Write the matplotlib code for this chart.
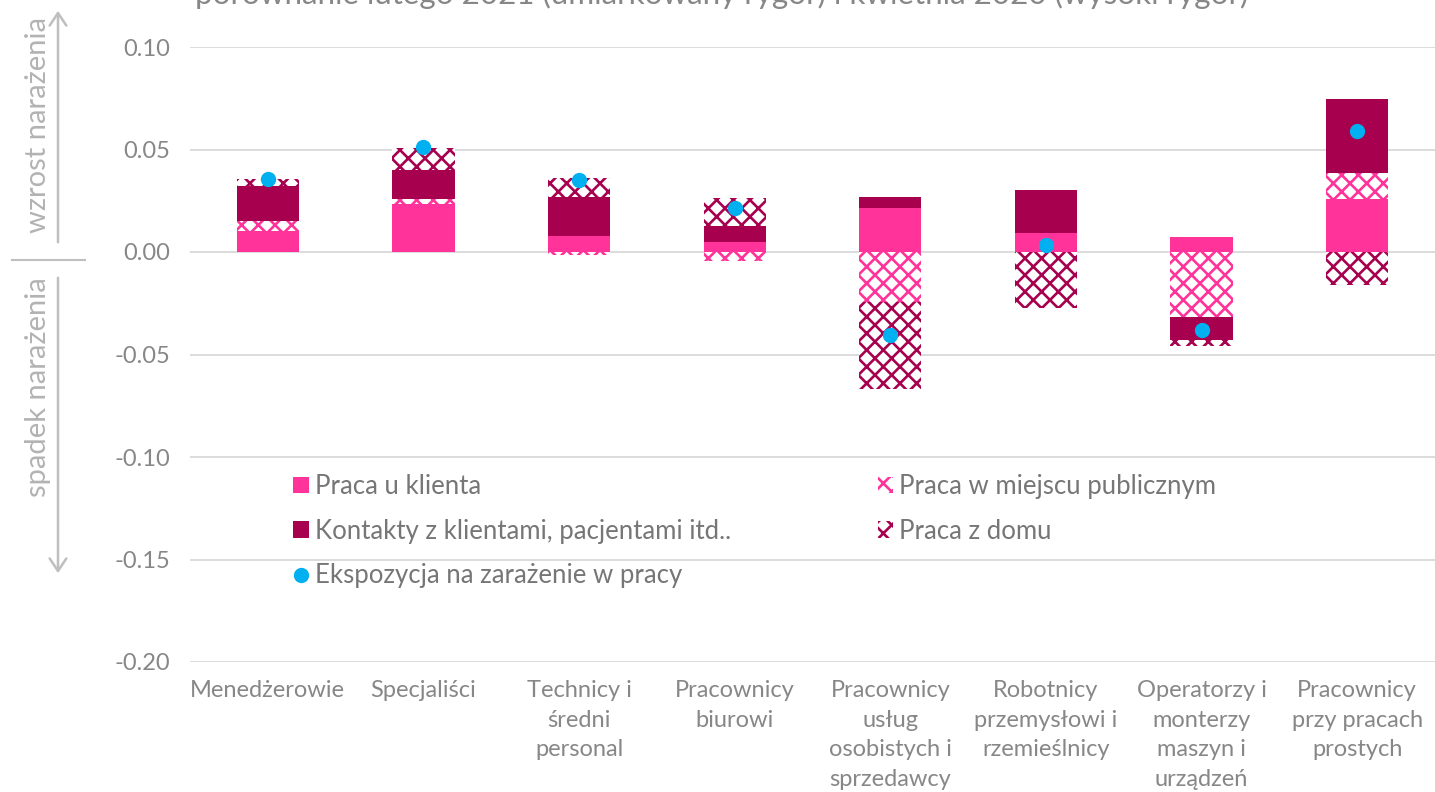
import numpy as np
import matplotlib
matplotlib.use("Agg")
import matplotlib.pyplot as plt
from matplotlib.patches import Patch, FancyArrowPatch
from matplotlib.lines import Line2D

# ==========================================
# dane
# ==========================================
categories = [
    "Menedżerowie",
    "Specjaliści",
    "Technicy i\nśredni\npersonal",
    "Pracownicy\nbiurowi",
    "Pracownicy\nusług\nosobistych i\nsprzedawcy",
    "Robotnicy\nprzemysłowi i\nrzemieślnicy",
    "Operatorzy i\nmonterzy\nmaszyn i\nurządzeń",
    "Pracownicy\nprzy pracach\nprostych",
]
praca_u_klienta = [0.0102, 0.0236, 0.0078, 0.0049, 0.0215, 0.0093, 0.0075, 0.0259]
praca_publiczna = [0.0050, 0.0023, -0.0015, -0.0044, -0.0245, 0.0, -0.0316, 0.0128]
kontakty = [0.0170, 0.0142, 0.0189, 0.0079, 0.0052, 0.0209, -0.0113, 0.0361]
praca_z_domu = [0.0034, 0.0108, 0.0094, 0.0134, -0.0425, -0.0272, -0.0028, -0.0160]
ekspozycja = [0.0355, 0.0510, 0.0351, 0.0216, -0.0405, 0.0033, -0.0380, 0.0592]

yticks = [-0.20, -0.15, -0.10, -0.05, 0.00, 0.05, 0.10]

PINK = "#FF3399"
DARK = "#A6004F"
BLUE = "#00B0F0"
GRAY = "#878787"
LEG_GRAY = "#767676"
HATCH = "xx"

plt.rcParams['font.family'] = ['Lato', 'DejaVu Sans']
plt.rcParams['font.weight'] = 'normal'
plt.rcParams['hatch.linewidth'] = 1.9

fig = plt.figure(figsize=(14.35, 7.92), dpi=100)
ax = fig.add_axes([190 / 1435, 130 / 792, 1245 / 1435, 615 / 792])

x = np.arange(len(categories))
w = 0.40

series = [
    (praca_u_klienta, dict(color=PINK)),
    (praca_publiczna, dict(facecolor="white", edgecolor=PINK, hatch=HATCH, linewidth=0)),
    (kontakty, dict(color=DARK)),
    (praca_z_domu, dict(facecolor="white", edgecolor=DARK, hatch=HATCH, linewidth=0)),
]

# stos dodatni i ujemny osobno (jak w Excelu)
pos = np.zeros(len(categories))
neg = np.zeros(len(categories))
for vals, style in series:
    v = np.array(vals)
    bottom = np.where(v >= 0, pos, neg)
    ax.bar(x, v, w, bottom=bottom, zorder=2, **style)
    pos = pos + np.where(v >= 0, v, 0)
    neg = neg + np.where(v < 0, v, 0)

ax.plot(x, ekspozycja, "o", color=BLUE, ms=10, zorder=3, linestyle="none")

ax.set_xlim(-0.5, len(categories) - 0.5)
ax.set_ylim(-0.20, 0.10)
ax.set_yticks(yticks)
ax.set_yticklabels([f"{t:.2f}" for t in yticks])
ax.set_xticks(x)
ax.set_xticklabels(categories, linespacing=1.5)
ax.tick_params(axis="both", length=0, labelsize=17, colors=GRAY)
ax.tick_params(axis="y", pad=14)
ax.tick_params(axis="x", pad=13)
ax.grid(axis="y", color="#D9D9D9", linewidth=1.3, zorder=0)
for s in ax.spines.values():
    s.set_visible(False)

# legenda
handles = [
    Patch(facecolor=PINK, label="Praca u klienta"),
    Patch(facecolor=DARK, label="Kontakty z klientami, pacjentami itd.."),
    Line2D([], [], marker="o", color=BLUE, linestyle="none", ms=10,
           label="Ekspozycja na zarażenie w pracy"),
    Patch(facecolor="white", edgecolor=PINK, hatch=HATCH, linewidth=0,
          label="Praca w miejscu publicznym"),
    Patch(facecolor="white", edgecolor=DARK, hatch=HATCH, linewidth=0,
          label="Praca z domu"),
]
fig.legend(handles=handles, ncol=2, loc="upper left",
           bbox_to_anchor=(270 / 1435, 1 - 451 / 792), frameon=False,
           fontsize=18.5, labelcolor=LEG_GRAY, handlelength=0.6, handleheight=0.6,
           handletextpad=0.25, labelspacing=0.76, columnspacing=5.7)

# tytuł (ucięty u góry, jak w oryginale)
fig.text(195 / 1435, 1 - 4 / 792,
         "porównanie lutego 2021 (umiarkowany rygor) i kwietnia 2020 (wysoki rygor)",
         fontsize=22.6, color=GRAY, va="baseline", ha="left")

# strzałki z lewej strony
ARR = "#BFBFBF"
fig.patches.append(FancyArrowPatch(
    (58 / 1435, 1 - 245 / 792), (58 / 1435, 1 - 8 / 792), transform=fig.transFigure,
    arrowstyle="->,head_length=9,head_width=6", color=ARR, lw=1.8))
fig.patches.append(FancyArrowPatch(
    (58 / 1435, 1 - 275 / 792), (58 / 1435, 1 - 576 / 792), transform=fig.transFigure,
    arrowstyle="->,head_length=9,head_width=6", color=ARR, lw=1.8))
fig.add_artist(Line2D([12 / 1435, 85 / 1435], [1 - 260 / 792, 1 - 260 / 792],
                      color=ARR, lw=1.5))
fig.text(38 / 1435, 1 - 125 / 792, "wzrost narażenia", rotation=90,
         fontsize=21, color="#B3B3B3", ha="center", va="center")
fig.text(38 / 1435, 1 - 387 / 792, "spadek narażenia", rotation=90,
         fontsize=21, color="#B3B3B3", ha="center", va="center")

fig.savefig("out.png", dpi=100)
